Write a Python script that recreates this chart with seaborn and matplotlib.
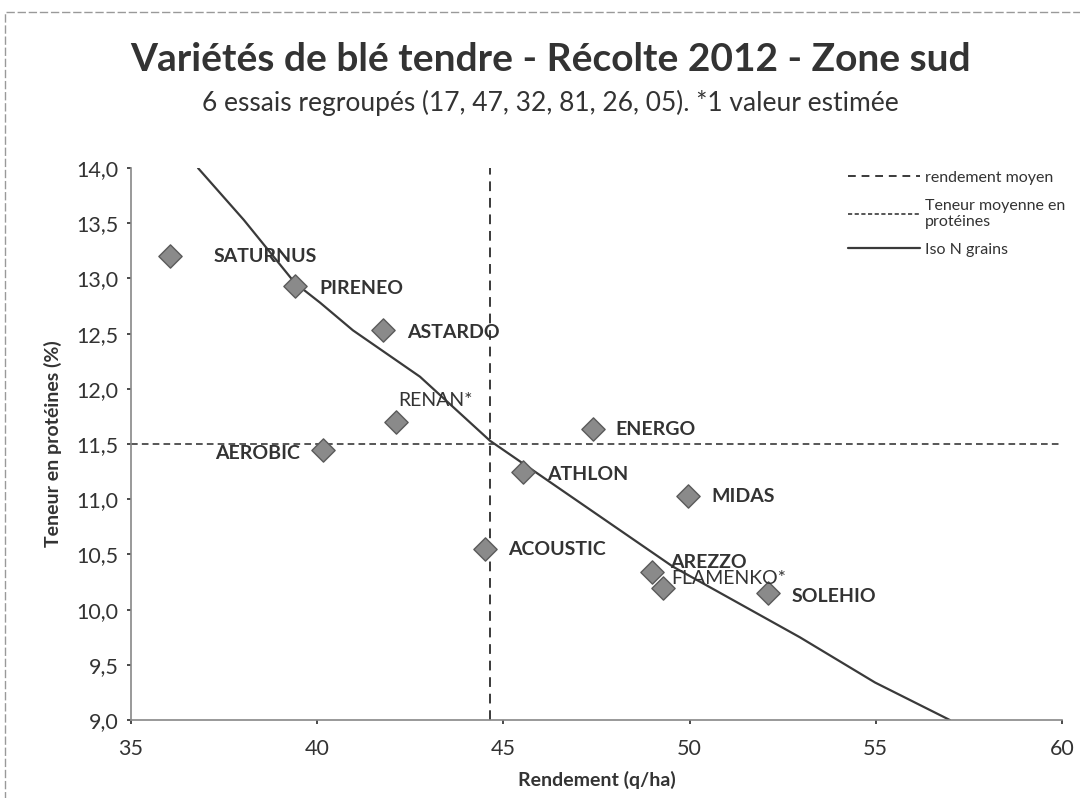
import matplotlib
matplotlib.use("Agg")
import matplotlib.pyplot as plt
import matplotlib.patches as mpatches
from matplotlib.lines import Line2D
from matplotlib.ticker import FuncFormatter
import seaborn as sns
import pandas as pd

# Variétés : rendement (q/ha) et teneur en protéines (%)
varietes = ["SATURNUS", "PIRENEO", "ASTARDO", "RENAN*", "AEROBIC", "ENERGO",
            "ATHLON", "MIDAS", "ACOUSTIC", "AREZZO", "FLAMENKO*", "SOLEHIO"]
rendement = [36.05, 39.4, 41.77, 42.12, 40.16, 47.4,
             45.53, 49.96, 44.5, 48.99, 49.29, 52.1]
proteines = [13.2, 12.93, 12.53, 11.7, 11.45, 11.64,
             11.25, 11.03, 10.55, 10.34, 10.2, 10.15]

# Courbe iso N grains
iso_x = [36.8, 38.03, 39.4, 40.08, 40.96, 42.76, 44.64, 49.55, 52.96, 54.98, 56.99]
iso_y = [14.0, 13.53, 12.96, 12.78, 12.53, 12.11, 11.53, 10.39, 9.75, 9.34, 9.0]

rendement_moyen = 44.64
teneur_moyenne = 11.5

# Position des étiquettes (décalage en pixels, alignement, gras)
label_offsets = {
    "SATURNUS": (43, 0, "left", "bold"),
    "PIRENEO": (25, -2, "left", "bold"),
    "ASTARDO": (24, -2, "left", "bold"),
    "RENAN*": (2, 21, "left", "normal"),
    "AEROBIC": (-23, -4, "right", "bold"),
    "ENERGO": (23, -1, "left", "bold"),
    "ATHLON": (24, -3, "left", "bold"),
    "MIDAS": (23, -1, "left", "bold"),
    "ACOUSTIC": (23, -1, "left", "bold"),
    "AREZZO": (18, 10, "left", "bold"),
    "FLAMENKO*": (8, 9, "left", "normal"),
    "SOLEHIO": (24, -3, "left", "bold"),
}

sns.set_theme(style="white")
plt.rcParams["font.family"] = ["Lato", "DejaVu Sans"]

df = pd.DataFrame({"variete": varietes, "rendement": rendement, "proteines": proteines})
iso = pd.DataFrame({"x": iso_x, "y": iso_y})

fig = plt.figure(figsize=(10.8, 7.98), dpi=100)
ax = fig.add_axes([0.1213, 0.0977, 0.862, 0.6917])

line_col = "#3a3a3a"
ax.axvline(rendement_moyen, color=line_col, lw=1.4, ls=(0, (5, 3.5)), zorder=1)
ax.axhline(teneur_moyenne, color=line_col, lw=1.2, ls=(0, (4, 2.5)), zorder=1)
sns.lineplot(data=iso, x="x", y="y", sort=False, color=line_col, lw=1.6, ax=ax, zorder=2)

sns.scatterplot(data=df, x="rendement", y="proteines", marker="D", s=140,
                color="#8a8a8a", edgecolor="#5a5a5a", linewidth=1.0, ax=ax, zorder=3)

for name, x, y in zip(varietes, rendement, proteines):
    dx, dy, ha, w = label_offsets[name]
    ax.annotate(name, (x, y), xytext=(dx, dy), textcoords="offset pixels",
                ha=ha, va="center", fontsize=14, fontweight=w, color="#333333")

ax.set_xlim(35, 60)
ax.set_ylim(9, 14)
ax.set_xticks([35, 40, 45, 50, 55, 60])
ax.set_yticks([9.0, 9.5, 10.0, 10.5, 11.0, 11.5, 12.0, 12.5, 13.0, 13.5, 14.0])
ax.yaxis.set_major_formatter(FuncFormatter(lambda v, p: f"{v:.1f}".replace(".", ",")))
ax.tick_params(axis="both", labelsize=15.5, colors="#333333", length=3, direction="out",
               left=True, bottom=True)
ax.tick_params(axis="x", pad=11)
ax.tick_params(axis="y", pad=6)

for side in ["top", "right"]:
    ax.spines[side].set_visible(False)
for side in ["left", "bottom"]:
    ax.spines[side].set_color("#888888")
    ax.spines[side].set_linewidth(1.2)

ax.set_xlabel("Rendement (q/ha)", fontsize=14, fontweight="bold", color="#333333", labelpad=8)
ax.set_ylabel("Teneur en protéines (%)", fontsize=14, fontweight="bold", color="#333333", labelpad=10)

handles = [
    Line2D([], [], color=line_col, lw=1.4, ls=(0, (4, 3))),
    Line2D([], [], color=line_col, lw=1.2, ls=(0, (2.5, 1.5))),
    Line2D([], [], color=line_col, lw=1.6),
]
labels = ["rendement moyen", "Teneur moyenne en\nprotéines", "Iso N grains"]
ax.legend(handles, labels, loc="upper left", bbox_to_anchor=(0.77, 0.995), frameon=False,
          fontsize=11.5, handlelength=4.5, handletextpad=0.3, labelspacing=0.85,
          borderpad=0, borderaxespad=0, labelcolor="#333333")

fig.text(0.51, 0.925, "Variétés de blé tendre - Récolte 2012 - Zone sud",
         ha="center", va="center", fontsize=28, fontweight="bold", color="#333333")
fig.text(0.51, 0.871, "6 essais regroupés (17, 47, 32, 81, 26, 05). *1 valeur estimée",
         ha="center", va="center", fontsize=19, color="#333333")

# cadre du graphique
fig.patches.append(mpatches.Rectangle((0.005, -0.01), 1.0, 0.995, transform=fig.transFigure,
                                      fill=False, edgecolor="#999999", lw=1.0, ls=(0, (6, 2))))

fig.savefig("out.png", dpi=100, facecolor="white")
